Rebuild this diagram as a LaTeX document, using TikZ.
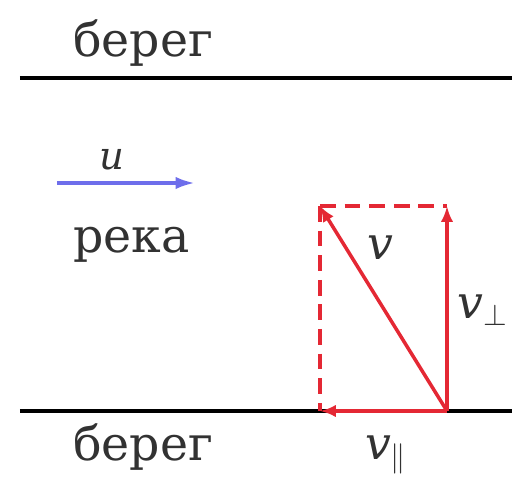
\documentclass[tikz,border=0pt]{standalone}
\usepackage{fontspec}
\setmainfont{DejaVu Serif}
\newfontfamily\shorefont{DejaVu Serif}
\usetikzlibrary{arrows.meta}
\definecolor{vecred}{RGB}{228,40,52}
\definecolor{flowblue}{RGB}{110,110,235}
\definecolor{txtgray}{RGB}{50,50,50}
\tikzset{
  shore/.style={line width=1.8pt,black},
  vec/.style={line width=2pt,vecred,-{Latex[length=9pt,width=7pt]}},
  aux/.style={line width=2pt,vecred,dashed,dash pattern=on 9pt off 5pt},
  word/.style={text=txtgray,font=\shorefont\fontsize{27}{27}\selectfont,inner sep=0pt},
  lbl/.style={text=txtgray,font=\shorefont\fontsize{26}{26}\selectfont\itshape,inner sep=0pt}
}
\begin{document}
\begin{tikzpicture}[x=0.02cm,y=-0.02cm]
  \useasboundingbox (0,0) rectangle (512,481);
  % banks
  \coordinate (topL) at (20,78);
  \coordinate (topR) at (512,78);
  \coordinate (botL) at (20,411);
  \coordinate (botR) at (512,411);
  \draw[shore] (topL) -- (topR);
  \draw[shore] (botL) -- (botR);
  \node[word,anchor=base west] (bank1) at (73,56) {берег};
  \node[word,anchor=base west] (bank2) at (73,460) {берег};
  \node[word,anchor=base west] (river) at (73,252) {река};
  % current
  \coordinate (u0) at (57,183);
  \coordinate (u1) at (195,183);
  \draw[line width=2pt,flowblue,-{Latex[length=11pt,width=7pt]}] (u0) -- (u1);
  \node[lbl,font=\shorefont\fontsize{22}{22}\selectfont\itshape] (ulbl) at (112,160) {u};
  % velocity triangle
  \coordinate (o) at (447,411);
  \coordinate (up) at (447,206);
  \coordinate (corner) at (320,206);
  \coordinate (back) at (320,411);
  \draw[aux] (corner) -- (up);
  \draw[aux] (corner) -- (back);
  \draw[vec] (o) -- (back);
  \draw[vec] (o) -- (up);
  \draw[vec] (o) -- (corner);
  \node[lbl] (vlbl) at (380,248) {v};
  \node[lbl] (vperp) at (483,310) {v$_\perp$};
  \node[lbl] (vpar) at (386,455) {v$_\parallel$};
\end{tikzpicture}
\end{document}
